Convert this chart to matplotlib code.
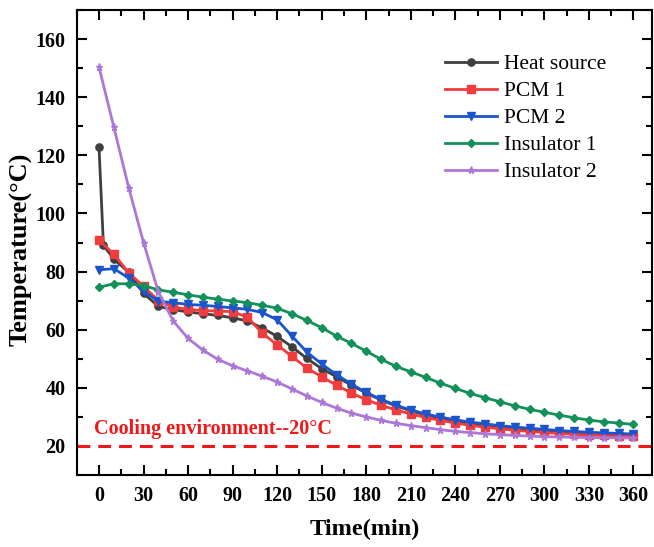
import numpy as np
import matplotlib
matplotlib.use("Agg")
import matplotlib.pyplot as plt
from matplotlib.ticker import MultipleLocator

plt.rcParams['font.family'] = ['Liberation Serif', 'DejaVu Serif']

# time axis, min (one extra early reading for the heat source)
t = list(range(0, 361, 10))
t_heat = [0, 3] + list(range(10, 361, 10))

heat_source = [123.0, 89.0, 84.3, 79.8, 72.5, 68.0, 66.9, 66.1, 65.5, 64.9, 64.1,
               63.0, 60.6, 57.7, 54.1, 50.1, 46.6, 43.8, 40.9, 38.2, 35.8,
               33.8, 32.1, 30.7, 29.5, 28.5, 27.6, 26.9, 26.3, 25.8, 25.4,
               25.0, 24.7, 24.4, 24.2, 24.0, 23.8, 23.6]
pcm1 = [90.8, 86.0, 79.6, 74.9, 70.0, 67.8, 67.0, 66.6, 66.4, 66.2,
        64.3, 58.8, 54.8, 50.8, 46.8, 43.8, 40.9, 38.2, 35.9,
        34.0, 32.4, 31.0, 29.8, 28.8, 27.9, 27.1, 26.5, 25.9, 25.4,
        25.0, 24.6, 24.3, 24.0, 23.8, 23.6, 23.5, 23.4]
pcm2 = [80.6, 81.0, 77.8, 73.2, 69.8, 69.3, 68.7, 68.4, 68.0, 67.5,
        67.0, 65.9, 63.4, 57.8, 52.3, 48.2, 44.5, 41.3, 38.4,
        36.0, 34.0, 32.4, 31.0, 29.9, 29.0, 28.2, 27.6, 27.0, 26.5,
        26.1, 25.7, 25.3, 25.0, 24.7, 24.5, 24.3, 24.1]
insulator1 = [74.6, 75.8, 75.8, 75.2, 73.7, 72.9, 72.0, 71.2, 70.5, 69.9,
              69.3, 68.4, 67.4, 65.5, 63.2, 60.7, 57.8, 55.3, 52.6,
              49.8, 47.4, 45.5, 43.6, 41.6, 39.8, 38.1, 36.6, 35.2, 33.8,
              32.6, 31.6, 30.6, 29.7, 28.9, 28.3, 27.9, 27.4]
insulator2 = [150.4, 129.7, 108.9, 90.0, 73.0, 63.0, 57.0, 53.0, 49.8, 47.6,
              45.8, 44.0, 42.0, 39.6, 37.2, 35.0, 33.0, 31.3, 30.0,
              28.8, 27.8, 27.0, 26.3, 25.6, 25.0, 24.6, 24.2, 23.9, 23.6,
              23.4, 23.2, 23.1, 23.0, 22.9, 22.8, 22.8, 22.7]

env_temp = 20

fig = plt.figure(figsize=(6.54, 5.47), dpi=100)
ax = fig.add_axes([0.1173, 0.1316, 0.8797, 0.8501])

lw = 2.0
ms = 5.2
ax.plot(t_heat, heat_source, color='#3f3f3f', marker='o', lw=lw, ms=ms, label='Heat source')
ax.plot(t, pcm1, color='#f03c3c', marker='s', lw=lw, ms=ms, label='PCM 1')
ax.plot(t, pcm2, color='#1a55cc', marker='v', lw=lw, ms=ms, label='PCM 2')
ax.plot(t, insulator1, color='#14915a', marker='D', lw=lw, ms=ms - 0.8, label='Insulator 1')
ax.plot(t, insulator2, color='#ad77d8', marker='*', lw=lw, ms=ms, label='Insulator 2')

ax.axhline(env_temp, color='#f01818', lw=2.2, ls=(0, (4.2, 2.6)))
ax.text(-3.6, 26, 'Cooling environment--20\u00b0C', color='#f01818',
        fontsize=14.5, fontweight='bold', va='center', ha='left')

ax.set_xlim(-15, 372.5)
ax.set_ylim(10, 170)
ax.xaxis.set_major_locator(MultipleLocator(30))
ax.xaxis.set_minor_locator(MultipleLocator(15))
ax.yaxis.set_major_locator(MultipleLocator(20))
ax.yaxis.set_minor_locator(MultipleLocator(10))
ax.set_yticks(np.arange(20, 161, 20))

ax.tick_params(which='both', direction='in', top=True, right=True, width=1.5)
ax.tick_params(which='major', length=7, labelsize=14.5, pad=8)
ax.tick_params(which='minor', length=4)
for lab in ax.get_xticklabels() + ax.get_yticklabels():
    lab.set_fontweight('bold')
for sp in ax.spines.values():
    sp.set_linewidth(1.5)

ax.set_xlabel('Time(min)', fontsize=17.5, fontweight='bold', labelpad=9)
ax.set_ylabel('Temperature(\u00b0C)', fontsize=19, fontweight='bold')
ax.yaxis.set_label_coords(-0.076, 0.485)

ax.legend(loc='upper left', bbox_to_anchor=(0.641, 0.905), frameon=False,
          fontsize=15.5, handlelength=2.4, handletextpad=0.3, labelspacing=0.32,
          borderpad=0, borderaxespad=0)

fig.savefig('out.png', dpi=100)
